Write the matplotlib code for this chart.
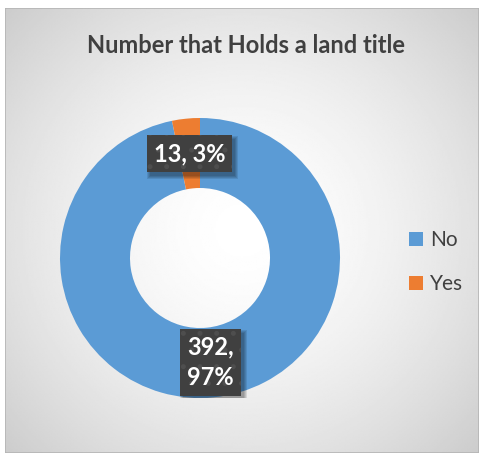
import numpy as np
import matplotlib
matplotlib.use("Agg")
import matplotlib.pyplot as plt
from matplotlib.patches import Rectangle

title = "Number that Holds a land title"
categories = ["No", "Yes"]
counts = [392, 13]
colors = ["#5B9BD5", "#ED7D31"]

plt.rcParams['font.family'] = ['Lato', 'DejaVu Sans']
plt.rcParams['hatch.linewidth'] = 1.2

W, H = 479, 453
fig = plt.figure(figsize=(W / 100, H / 100), dpi=100)
fig.patch.set_facecolor("white")

# chart area with radial gradient backdrop
x0, y0 = 5, 8
bg = fig.add_axes([x0 / W, 0, (W - x0) / W, (H - y0) / H])
bg.set_axis_off()
gx = np.linspace(0, 1, 300)
gy = np.linspace(0, 1, 300)
X, Y = np.meshgrid(gx, gy)
d = np.sqrt(((X - 0.5) * 1.0) ** 2 + ((Y - 0.5) * 0.95) ** 2) / 0.69
val = 1 - 0.20 * np.clip(d, 0, 1) ** 1.6
bg.imshow(val, cmap="gray", vmin=0, vmax=1, extent=[0, 1, 0, 1],
          aspect="auto", interpolation="bilinear")
bg.add_patch(Rectangle((0, 0), 1, 1, transform=bg.transAxes, fill=False,
                       edgecolor="#b5b5b5", linewidth=1.2))
bg.set_xlim(0, 1)
bg.set_ylim(0, 1)

# doughnut
cx, cy, R = 200, 258, 140
ax = fig.add_axes([(cx - R) / W, (H - cy - R) / H, 2 * R / W, 2 * R / H])
ax.set_axis_off()
wedges, _ = ax.pie(counts, colors=colors, startangle=90, counterclock=False,
                   radius=1.0, wedgeprops=dict(width=0.5, edgecolor="none"))
ax.set_xlim(-1, 1)
ax.set_ylim(-1, 1)

total = sum(counts)
labels = []
for w, c in zip(wedges, counts):
    ang = np.deg2rad((w.theta1 + w.theta2) / 2)
    r = 0.75
    x, y = r * np.cos(ang), r * np.sin(ang)
    pct = round(100 * c / total)
    label = f"{c}, {pct}%" if c < 100 else f"{c},\n{pct}%"
    t = ax.text(x, y, label, ha="center", va="center", fontsize=17,
                fontweight="bold", color="white", linespacing=1.4, zorder=5,
                bbox=dict(boxstyle="square,pad=0.3", facecolor="#404040",
                          edgecolor="#4e4e4e", linewidth=0, hatch="."))
    labels.append(t)

fig.text(246 / W, 1 - 45.5 / H, title, ha="center", va="center",
         fontsize=17, fontweight="bold", color="#404040")

leg = fig.legend(wedges, categories, loc="center left",
                 bbox_to_anchor=(390 / W, 1 - 262 / H), frameon=False,
                 fontsize=15, labelcolor="#404040", handlelength=0.68,
                 handleheight=0.68, handletextpad=0.35, labelspacing=1.15)

# soft drop shadow under each label box
fig.canvas.draw()
renderer = fig.canvas.get_renderer()
inv = ax.transData.inverted()
for t in labels:
    ext = t.get_bbox_patch().get_window_extent(renderer)
    for k in range(4):
        grow = 3 - k
        (xa, ya) = inv.transform((ext.x0 + 3 - grow, ext.y0 - 4 - grow))
        (xb, yb) = inv.transform((ext.x1 + 3 + grow, ext.y1 - 4 + grow))
        ax.add_patch(Rectangle((xa, ya), xb - xa, yb - ya, facecolor="black",
                               edgecolor="none", alpha=0.10, zorder=2))

fig.savefig("out.png", dpi=100)
